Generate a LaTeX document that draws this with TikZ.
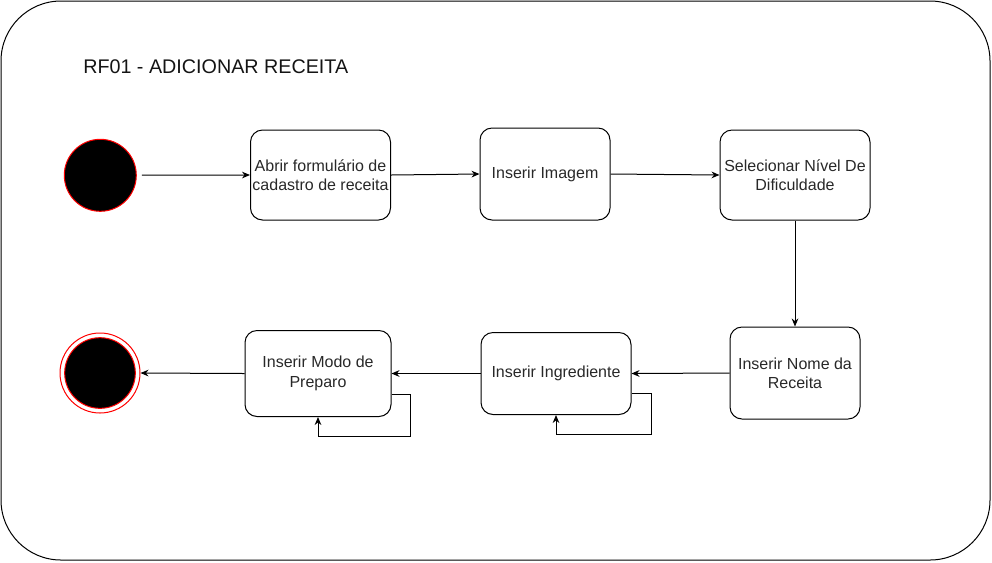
\documentclass[tikz,border=0pt]{standalone}
\usepackage{fontspec}
\setmainfont{Liberation Sans}
\usepackage{tikz}
\usetikzlibrary{arrows.meta}
\usetikzlibrary{shapes}

\begin{document}
\begin{tikzpicture}[x=0.75pt,y=0.75pt,yscale=-1,xscale=1,
  state/.style={draw, line width=0.75pt, rounded corners=9pt, align=center, inner sep=0.75pt, font=\fontsize{12}{14.5}\selectfont, text={rgb, 255:red, 40; green, 40; blue, 40 }},
  flow/.style={draw, line width=0.75pt, -{Stealth[length=6pt,width=5pt]}},
  initial/.style={circle, draw={rgb, 255:red, 255; green, 0; blue, 0 }, fill=black, line width=0.75pt, inner sep=0pt, minimum size=54pt}]
\useasboundingbox (0,0) rectangle (992,562);

%Rounded Rect [id:frame]
\draw [line width=0.75pt, rounded corners=45pt]  (1,1) rectangle (990,560) ;

% Text Node
\draw (82,67) node [anchor=west] [inner sep=0.75pt] [font=\fontsize{14.8}{18}\selectfont, color={rgb, 255:red, 20; green, 20; blue, 20 }] (title) {RF01 - ADICIONAR RECEITA};

%Start and end states
\node [initial] (start) at (100.3,175.3) {};
\node [circle, draw={rgb, 255:red, 255; green, 0; blue, 0 }, fill=white, line width=0.75pt, inner sep=0pt, minimum size=60pt] (final) at (100,373) {};
\node [initial, minimum size=53pt] (finalin) at (100,373) {};

%Activity boxes
\node [state, minimum width=105pt, minimum height=67.5pt] (formulario) at (320.5,175) {Abrir formulário de\\cadastro de receita};
\node [state, minimum width=97.5pt, minimum height=69pt] (imagem) at (545,174) {Inserir Imagem};
\node [state, minimum width=112.5pt, minimum height=67.5pt] (nivel) at (795,175) {Selecionar Nível De\\Dificuldade};
\node [state, minimum width=97.5pt, minimum height=69pt] (nome) at (795,373) {Inserir Nome da\\Receita};
\node [state, minimum width=112.5pt, minimum height=61.5pt] (ingrediente) at (556,373.5) {Inserir Ingrediente};
\node [state, minimum width=109.5pt, minimum height=64.5pt] (preparo) at (318,373.5) {Inserir Modo de\\Preparo};

%Loop corners
\coordinate (loopIng) at (651,434);
\coordinate (loopPrep) at (410,436);

%Straight Lines
\draw [flow, shorten <=3.75pt] (start) -- (formulario.west);
\draw [flow] (formulario.east) -- (imagem.west);
\draw [flow] (imagem.east) -- (nivel.west);
\draw [flow] (nivel.south) -- (nome.north);
\draw [flow] (nome.west) -- (ingrediente.east);
\draw [flow] (ingrediente.west) -- (preparo.east);
\draw [flow] (preparo.west) -- (final.east);

%Self loops
\draw [flow] ([yshift=15pt]ingrediente.east) -| (loopIng) -| (ingrediente.south);
\draw [flow] ([yshift=15.75pt]preparo.east) -| (loopPrep) -| (preparo.south);

\end{tikzpicture}
\end{document}
